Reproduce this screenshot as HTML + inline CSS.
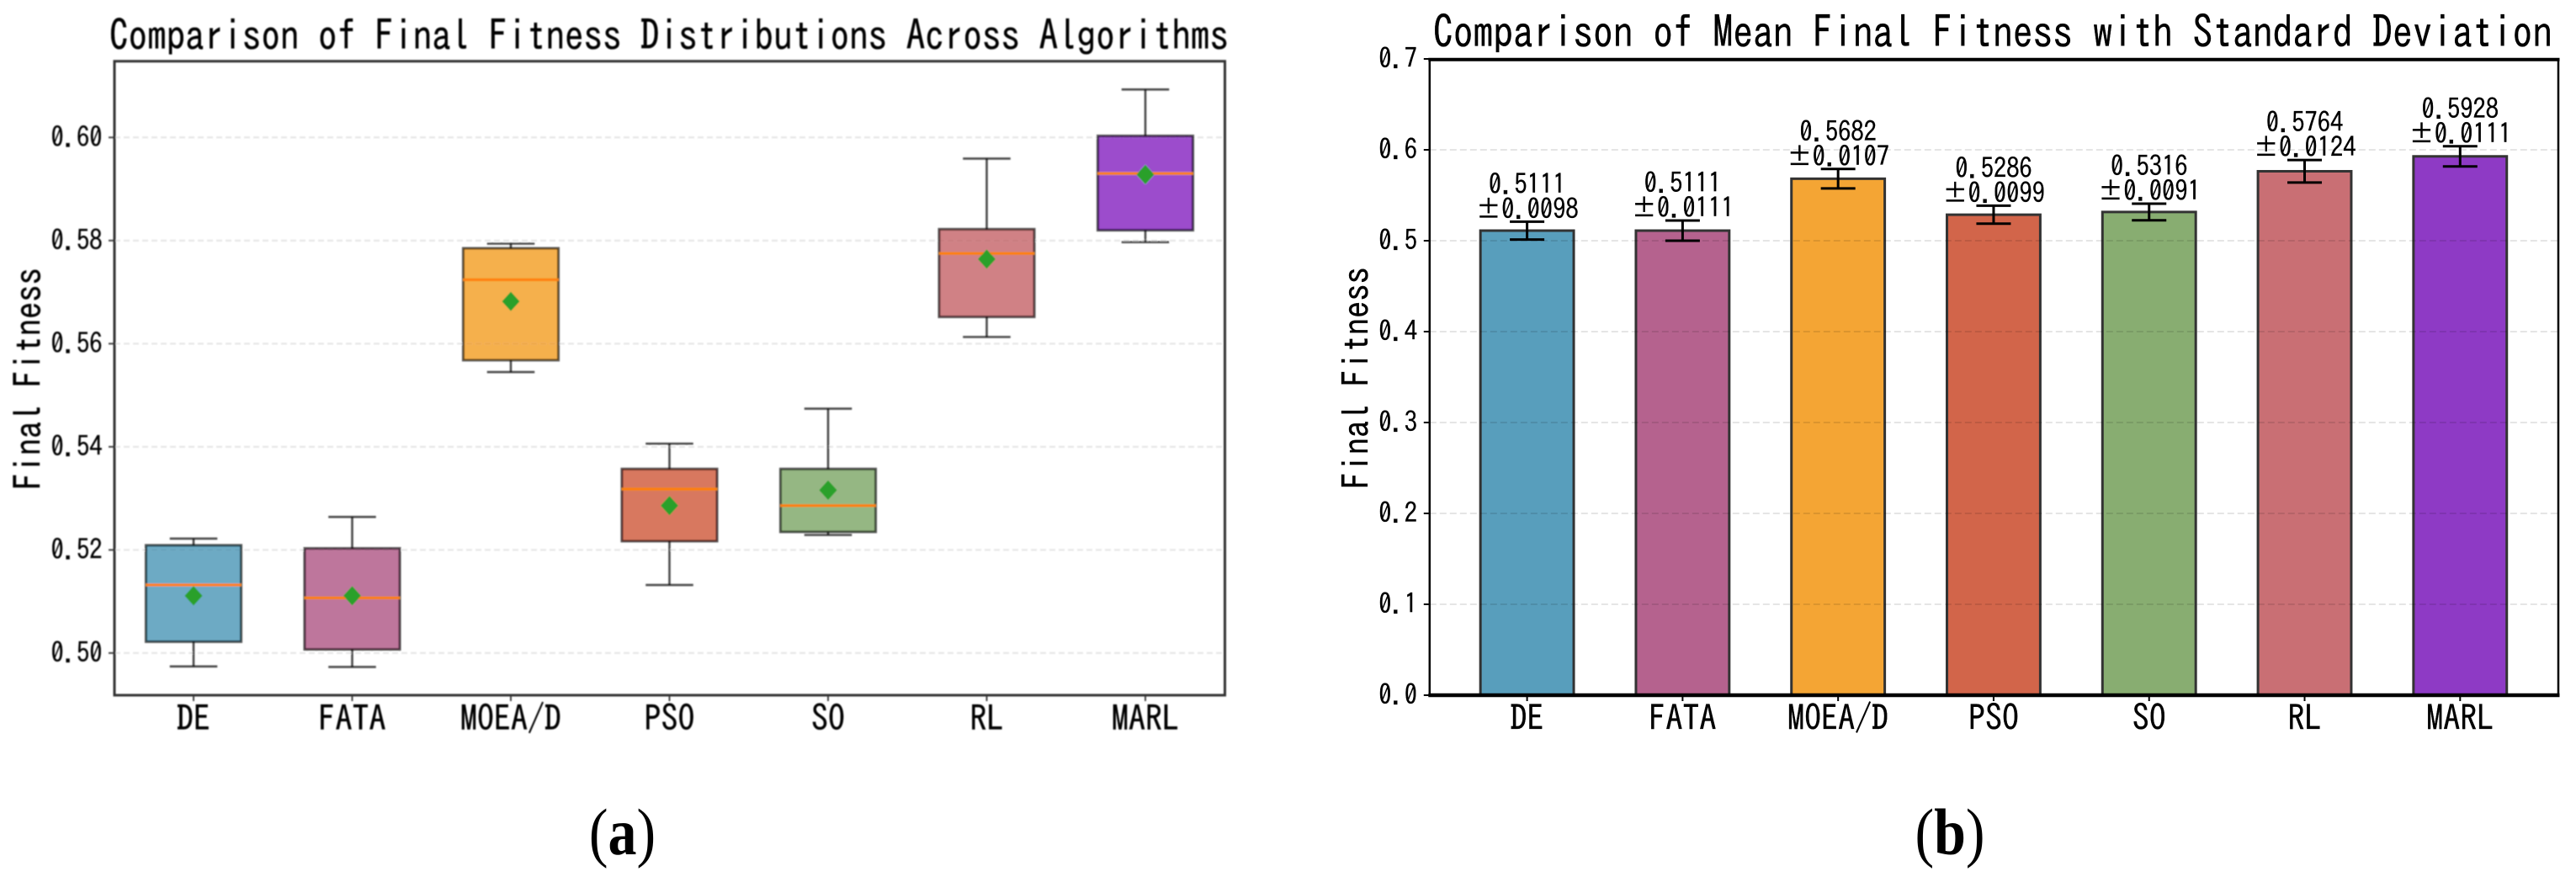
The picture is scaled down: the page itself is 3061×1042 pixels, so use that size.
<!DOCTYPE html>
<html lang="en">
<head>
<meta charset="utf-8">
<title>Final Fitness Comparison</title>
<style>
html,body{margin:0;padding:0;background:#fff;}
svg{display:block;}
text{font-family:"IPAGothic","WenQuanYi Zen Hei",monospace;fill:#000;stroke:#000;stroke-width:0.3px;}
.cap{font-family:"Liberation Serif",serif;stroke:none;}
</style>
</head>
<body>
<svg id="fig" xmlns="http://www.w3.org/2000/svg" width="3061" height="1042" viewBox="0 0 3061 1042">
  <defs>
    <filter id="soft" x="-2%" y="-2%" width="104%" height="104%"><feGaussianBlur stdDeviation="0.75"/></filter>
  </defs>
  <rect x="0" y="0" width="3061" height="1042" fill="#fff"/>
  <g id="panelA" filter="url(#soft)"></g>
  <g id="panelB"></g>
  <text class="cap" x="739.5" y="1015" transform="translate(0 -152.25) scale(1 1.15)" text-anchor="middle" font-size="68">(<tspan font-weight="bold">a</tspan>)</text>
  <text class="cap" x="2317" y="1015" transform="translate(0 -152.25) scale(1 1.15)" text-anchor="middle" font-size="68">(<tspan font-weight="bold">b</tspan>)</text>
</svg>
<script>
// ---- shared data ----
const categories = ['DE', 'FATA', 'MOEA/D', 'PSO', 'SO', 'RL', 'MARL'];
const seriesColors = ['#2E86AB', '#A23B72', '#F18F01', '#C73E1D', '#6A994E', '#BC4B51', '#7209B7'];

// ---- panel (a) box plot data ----
const whiskerLow  = [0.4974, 0.4973, 0.5545, 0.5132, 0.5229, 0.5613, 0.5797];
const quartile1   = [0.5022, 0.5007, 0.5568, 0.5217, 0.5235, 0.5652, 0.5820];
const medians     = [0.5132, 0.5107, 0.5724, 0.5318, 0.5286, 0.5775, 0.5930];
const quartile3   = [0.5209, 0.5203, 0.5785, 0.5357, 0.5357, 0.5822, 0.6003];
const whiskerHigh = [0.5222, 0.5264, 0.5794, 0.5406, 0.5474, 0.5959, 0.6093];
const boxMeans    = [0.5111, 0.5111, 0.5682, 0.5286, 0.5316, 0.5764, 0.5928];
const boxTicks    = [0.50, 0.52, 0.54, 0.56, 0.58, 0.60];

// ---- panel (b) bar data ----
const barMeans = [0.5111, 0.5111, 0.5682, 0.5286, 0.5316, 0.5764, 0.5928];
const barStds  = [0.0098, 0.0111, 0.0107, 0.0099, 0.0091, 0.0124, 0.0111];
const barTicks = [0.0, 0.1, 0.2, 0.3, 0.4, 0.5, 0.6, 0.7];

const SVGNS = 'http://www.w3.org/2000/svg';
function mk(parent, tag, attrs, txt) {
  const el = document.createElementNS(SVGNS, tag);
  for (const k in attrs) el.setAttribute(k, attrs[k]);
  if (txt !== undefined) el.textContent = txt;
  parent.appendChild(el);
  return el;
}
// vertical stretch about the text baseline, to match the taller source glyphs
function tall(y, sy) { return 'translate(0 ' + (y * (1 - sy)) + ') scale(1 ' + sy + ')'; }
function slug(s) { return s.toLowerCase().replace(/[^a-z0-9]+/g, '-'); }
function linear(d0, d1, r0, r1) { return v => r0 + (v - d0) * (r1 - r0) / (d1 - d0); }

const FONT_TICK = 30.5, FONT_CAT = 40, FONT_AXIS = 40.6;
const STRETCH_TICK = 1.08, STRETCH_CAT = 1.05, STRETCH_TITLE = 1.12;

// ================= PANEL A =================
(function () {
  const root = document.getElementById('panelA');
  const L = 136, R = 1455.5, T = 72.7, B = 826;
  const xA = linear(0, 6, 230, 1361);
  const yA = linear(0.50, 0.60, 775.9, 163.3);
  const catStep = xA(1) - xA(0);
  const boxW = catStep * 0.6, capW = catStep * 0.3;

  boxTicks.forEach(function (t) {
    const y = yA(t);
    const grid = mk(root, 'line', {x1: L, x2: R, y1: y, y2: y, stroke: '#e4e4e4', 'stroke-width': 2, 'stroke-dasharray': '7 4'});
    
    
    const tick = mk(root, 'line', {x1: L - 7, x2: L, y1: y, y2: y, stroke: '#444', 'stroke-width': 2});
    
    
    const ly = y + 11;
    const lab = mk(root, 'text', {x: 121.5, y: ly, transform: tall(ly, STRETCH_TICK), 'text-anchor': 'end', 'font-size': FONT_TICK}, t.toFixed(2));
    
    
  });

  categories.forEach(function (c, i) {
    const x = xA(i);
    const g = mk(root, 'g', {});
    
    
    const edge = {stroke: '#000', 'stroke-opacity': 0.7, 'stroke-width': 2.6};
    const w1 = mk(g, 'line', Object.assign({x1: x, x2: x, y1: yA(whiskerHigh[i]), y2: yA(quartile3[i])}, edge));
    
    
    const w2 = mk(g, 'line', Object.assign({x1: x, x2: x, y1: yA(quartile1[i]), y2: yA(whiskerLow[i])}, edge));
    
    
    const c1 = mk(g, 'line', Object.assign({x1: x - capW / 2, x2: x + capW / 2, y1: yA(whiskerHigh[i]), y2: yA(whiskerHigh[i])}, edge));
    
    
    const c2 = mk(g, 'line', Object.assign({x1: x - capW / 2, x2: x + capW / 2, y1: yA(whiskerLow[i]), y2: yA(whiskerLow[i])}, edge));
    
    
    const box = mk(g, 'rect', {x: x - boxW / 2, y: yA(quartile3[i]), width: boxW, height: yA(quartile1[i]) - yA(quartile3[i]), fill: seriesColors[i], 'fill-opacity': 0.7, stroke: '#000', 'stroke-opacity': 0.65, 'stroke-width': 3});
    
    
    const med = mk(g, 'line', {x1: x - boxW / 2, x2: x + boxW / 2, y1: yA(medians[i]), y2: yA(medians[i]), stroke: '#ff7f0e', 'stroke-width': 3});
    
    
    const my = yA(boxMeans[i]);
    const dia = mk(g, 'polygon', {points: (x - 10.5) + ',' + my + ' ' + x + ',' + (my - 11.5) + ' ' + (x + 10.5) + ',' + my + ' ' + x + ',' + (my + 11.5), fill: '#2ca02c'});
    
    

    const tick = mk(root, 'line', {x1: x, x2: x, y1: B, y2: B + 7, stroke: '#444', 'stroke-width': 2});
    
    
    const lab = mk(root, 'text', {x: x, y: 868.5, transform: tall(868.5, STRETCH_CAT), 'text-anchor': 'middle', 'font-size': FONT_CAT}, c);
    
    
  });

  const spines = mk(root, 'path', {d: 'M' + L + ' ' + B + 'V' + T + 'H' + R + 'V' + B + 'Z', fill: 'none', stroke: '#333', 'stroke-width': 3});
  
  

  const title = mk(root, 'text', {x: 130, y: 60, transform: tall(60, STRETCH_TITLE), 'font-size': 45, textLength: 1330, lengthAdjust: 'spacingAndGlyphs'}, 'Comparison of Final Fitness Distributions Across Algorithms');
  
  
  const yt = mk(root, 'text', {transform: 'translate(49.5 450) rotate(-90) scale(1 1.1)', 'text-anchor': 'middle', 'font-size': FONT_AXIS}, 'Final Fitness');
  
  
})();

// ================= PANEL B =================
(function () {
  const root = document.getElementById('panelB');
  const L = 1698.8, R = 3040, T = 70.7, B = 826;
  const xB = linear(0, 6, 1814.6, 2923.3);
  const yB = linear(0, 0.7, 826, 70);
  const catStep = xB(1) - xB(0);
  const barW = catStep * 0.6, capW = 41;

  categories.forEach(function (c, i) {
    const x = xB(i);
    const bar = mk(root, 'rect', {x: x - barW / 2, y: yB(barMeans[i]), width: barW, height: yB(0) - yB(barMeans[i]), fill: seriesColors[i], 'fill-opacity': 0.8, stroke: '#333', 'stroke-width': 3});
    
    
  });

  barTicks.forEach(function (t) {
    const y = yB(t);
    if (t > 0 && t < 0.7) {
      const grid = mk(root, 'line', {x1: L, x2: R, y1: y, y2: y, stroke: '#000', 'stroke-opacity': 0.1, 'stroke-width': 2, 'stroke-dasharray': '8 4'});
      
      
    }
    const tick = mk(root, 'line', {x1: L - 7, x2: L, y1: y, y2: y, stroke: '#000', 'stroke-width': 2});
    
    
    const ly = y + 11;
    const lab = mk(root, 'text', {x: 1684, y: ly, transform: tall(ly, STRETCH_TICK), 'text-anchor': 'end', 'font-size': FONT_TICK}, t.toFixed(1));
    
    
  });

  categories.forEach(function (c, i) {
    const x = xB(i);
    const top = yB(barMeans[i] + barStds[i]), bot = yB(barMeans[i] - barStds[i]);
    const g = mk(root, 'g', {stroke: '#000', 'stroke-width': 3});
    
    
    mk(g, 'line', {x1: x, x2: x, y1: top, y2: bot});
    mk(g, 'line', {x1: x - capW / 2, x2: x + capW / 2, y1: top, y2: top});
    mk(g, 'line', {x1: x - capW / 2, x2: x + capW / 2, y1: bot, y2: bot});

    const y1 = top - 33, y2 = top - 3.5;
    const v1 = mk(root, 'text', {x: x, y: y1, transform: tall(y1, STRETCH_TICK), 'text-anchor': 'middle', 'font-size': FONT_TICK}, barMeans[i].toFixed(4));
    
    
    const v2 = mk(root, 'text', {x: x, y: y2, transform: tall(y2, STRETCH_TICK), 'text-anchor': 'middle', 'font-size': FONT_TICK}, '\u00B1' + barStds[i].toFixed(4));
    
    

    const tick = mk(root, 'line', {x1: x, x2: x, y1: B, y2: B + 7, stroke: '#000', 'stroke-width': 2});
    
    
    const lab = mk(root, 'text', {x: x, y: 868, transform: tall(868, STRETCH_CAT), 'text-anchor': 'middle', 'font-size': FONT_CAT}, c);
    
    
  });

  const top = mk(root, 'line', {x1: L - 1.5, x2: R + 1.5, y1: T, y2: T, stroke: '#000', 'stroke-width': 4});
  
  
  const bottom = mk(root, 'line', {x1: L - 1.5, x2: R + 1.5, y1: B, y2: B, stroke: '#000', 'stroke-width': 4.5});
  
  
  const left = mk(root, 'line', {x1: L, x2: L, y1: T, y2: B, stroke: '#000', 'stroke-width': 2.5});
  
  
  const right = mk(root, 'line', {x1: R, x2: R, y1: T, y2: B, stroke: '#000', 'stroke-width': 2.5});
  
  

  const title = mk(root, 'text', {x: 1703, y: 57, transform: tall(57, STRETCH_TITLE), 'font-size': 47.5, textLength: 1330, lengthAdjust: 'spacingAndGlyphs'}, 'Comparison of Mean Final Fitness with Standard Deviation');
  
  
  const yt = mk(root, 'text', {transform: 'translate(1627 449) rotate(-90) scale(1 1.08)', 'text-anchor': 'middle', 'font-size': FONT_AXIS}, 'Final Fitness');
  
  
})();
</script>
</body>
</html>
